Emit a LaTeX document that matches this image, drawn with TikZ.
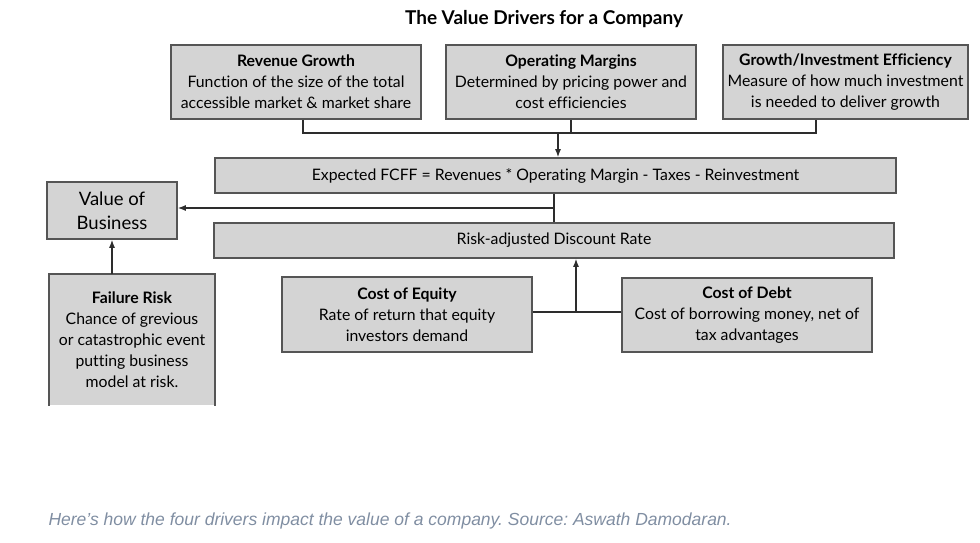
\documentclass[tikz,border=0pt]{standalone}
\usepackage{fontspec}
\setmainfont{Lato}[Ligatures=NoCommon]
\newfontfamily\capfont{Liberation Sans}
\usepackage{xcolor}
\definecolor{vdfill}{RGB}{212,212,212}
\definecolor{vdedge}{RGB}{85,85,85}
\definecolor{vdline}{RGB}{45,45,45}
\definecolor{vdcap}{RGB}{128,142,162}
\usetikzlibrary{arrows.meta,positioning,calc}
\tikzset{
  drvbox/.style={draw=vdedge, line width=1.6pt, fill=vdfill, inner sep=0pt,
                 align=center, font=\fontsize{15.8}{21}\selectfont},
  barbox/.style={drvbox, minimum height=35pt},
  link/.style={draw=vdline, line width=1.3pt},
  linkarr/.style={link, -{Latex[length=8pt,width=6pt]}},
}
\frenchspacing

\begin{document}
\begin{tikzpicture}[x=1pt, y=-1pt]
\useasboundingbox (0,0) rectangle (980,543);

% --- Title ---
\node[font=\fontsize{19}{22}\selectfont\bfseries] (title) at (544,19) {The Value Drivers for a Company};

% --- Top drivers ---
\node[drvbox, minimum width=250pt, minimum height=74pt] (rev) at (296,82)
  {\textbf{Revenue Growth}\\Function of the size of the total\\accessible market \& market share};
\node[drvbox, minimum width=250pt, minimum height=74pt] (opm) at (571,82)
  {\textbf{Operating Margins}\\Determined by pricing power and\\cost efficiencies};
\node[drvbox, minimum width=245pt, minimum height=74pt] (grow) at (845.5,82)
  {\textbf{Growth/Investment Efficiency}\\Measure of how much investment\\is needed to deliver growth};

% --- Bars ---
\node[barbox, minimum width=681pt] (fcff) at (555.5,175.5)
  {Expected FCFF = Revenues * Operating Margin - Taxes - Reinvestment};
\node[barbox, minimum width=680pt] (risk) at (554,240.5)
  {Risk-adjusted Discount Rate};

% --- Value ---
\node[drvbox, minimum width=130pt, minimum height=57pt, font=\fontsize{18.5}{24}\selectfont]
  (value) at (112,210.5) {Value of\\Business};

% --- Failure risk (open at the bottom) ---
\node[drvbox, draw=none, minimum width=164pt, minimum height=130pt] (fail) at (132,340)
  {\textbf{Failure Risk}\\Chance of grevious\\or catastrophic event\\putting business\\model at risk.};
\draw[vdedge, line width=1.6pt] (fail.south west) -- (fail.north west) -- (fail.north east) -- (fail.south east);

% --- Cost of capital ---
\node[drvbox, minimum width=250pt, minimum height=75pt] (coe) at (407,314.5)
  {\textbf{Cost of Equity}\\Rate of return that equity\\investors demand};
\node[drvbox, minimum width=250pt, minimum height=74pt] (cod) at (747,315)
  {\textbf{Cost of Debt}\\Cost of borrowing money, net of\\tax advantages};

% --- Connectors ---
\coordinate (busL) at (303,133);
\coordinate (busR) at (816,133);
\coordinate (busM) at (558,133);
\draw[link] (rev.south -| busL) -- (busL) -- (busR) -- (grow.south -| busR);
\draw[link] (opm.south) -- (opm.south |- busL);
\draw[linkarr] (busM) -- (busM |- fcff.north);

\coordinate (jn) at (554,208);
\draw[link] (fcff.south -| jn) -- (risk.north -| jn);
\draw[linkarr] (jn) -- (jn -| value.east);
\draw[linkarr] (value.south |- fail.north) -- (value.south);

\coordinate (kc) at (576,312);
\draw[link] (coe.east |- kc) -- (cod.west |- kc);
\draw[linkarr] (kc) -- (kc |- risk.south);

% --- Caption ---
\node[anchor=west, font=\capfont\itshape\fontsize{17.5}{20}\selectfont, text=vdcap] (caption) at (45,521)
  {Here’s how the four drivers impact the value of a company. Source: Aswath Damodaran.};

\end{tikzpicture}
\end{document}
